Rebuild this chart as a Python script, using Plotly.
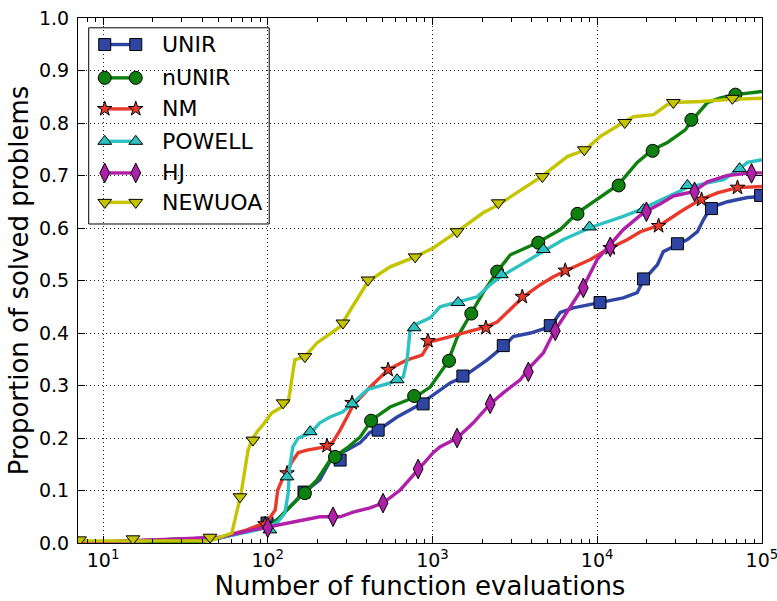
import plotly.graph_objects as go

FONT = "DejaVu Sans"

# ---------------- data ----------------
# x = number of function evaluations, y = proportion of solved problems
series_names = ["UNIR", "nUNIR", "NM", "POWELL", "HJ", "NEWUOA"]

unir_x = [7.0, 51.2, 81.3, 98.9, 114, 164, 207, 249, 303, 364, 418, 468, 610, 877, 968, 1280, 1530,
          2150, 2690, 3090, 3930, 5190, 5970, 7160, 10400, 14400, 17500, 19100, 23200, 25200, 30700,
          35300, 40600, 44200, 48800, 61800, 81700, 100000]
unir_y = [0.0, 0.010, 0.025, 0.036, 0.044, 0.095, 0.120, 0.166, 0.177, 0.191, 0.211, 0.215, 0.240,
          0.267, 0.278, 0.305, 0.316, 0.349, 0.374, 0.393, 0.400, 0.412, 0.439, 0.448, 0.458, 0.467,
          0.477, 0.501, 0.530, 0.555, 0.568, 0.578, 0.593, 0.616, 0.639, 0.650, 0.658, 0.660]
unir_mx = [98.9, 166, 275, 468, 877, 1530, 2690, 5190, 10400, 19100, 30700, 49400, 98200]
unir_my = [0.038, 0.097, 0.158, 0.215, 0.265, 0.318, 0.376, 0.414, 0.458, 0.503, 0.570, 0.637, 0.662]

nunir_x = [7.0, 38.8, 51.2, 81.3, 100, 114, 131, 164, 199, 239, 264, 303, 364, 430, 553, 785, 968,
           1240, 1410, 1690, 2030, 2470, 2970, 4330, 5970, 7590, 10000, 13500, 17500, 21700, 26700,
           34300, 37800, 46700, 56000, 69000, 100000]
nunir_y = [0.0, 0.002, 0.010, 0.025, 0.032, 0.044, 0.063, 0.095, 0.120, 0.158, 0.168, 0.181, 0.202,
           0.235, 0.259, 0.278, 0.297, 0.345, 0.391, 0.435, 0.477, 0.517, 0.549, 0.572, 0.597, 0.629,
           0.654, 0.683, 0.725, 0.749, 0.763, 0.787, 0.806, 0.839, 0.848, 0.854, 0.860]
nunir_mx = [168, 256, 424, 774, 1260, 1720, 2470, 4390, 7590, 13500, 21700, 37300, 69000]
nunir_my = [0.095, 0.164, 0.233, 0.280, 0.347, 0.437, 0.517, 0.572, 0.627, 0.681, 0.747, 0.806, 0.854]

nm_x = [7.0, 51.2, 74.8, 81.3, 98.9, 111, 115, 122, 131, 140, 153, 173, 199, 223, 249, 275, 303, 330,
        379, 418, 538, 702, 865, 968, 1280, 2030, 2470, 3090, 3560, 4520, 5420, 6590, 9100, 11500,
        15300, 18300, 24200, 32000, 42400, 53700, 71100, 100000]
nm_y = [0.0, 0.010, 0.025, 0.029, 0.040, 0.063, 0.101, 0.120, 0.135, 0.154, 0.172, 0.177, 0.181,
        0.183, 0.193, 0.215, 0.240, 0.263, 0.282, 0.297, 0.330, 0.349, 0.358, 0.383, 0.393, 0.410,
        0.421, 0.450, 0.469, 0.492, 0.507, 0.520, 0.540, 0.559, 0.578, 0.593, 0.606, 0.631, 0.654,
        0.667, 0.677, 0.679]
nm_mx = [96.2, 131, 229, 325, 538, 939, 2110, 3510, 6400, 12000, 23600, 43000, 71100]
nm_my = [0.036, 0.133, 0.185, 0.267, 0.330, 0.385, 0.410, 0.469, 0.519, 0.562, 0.604, 0.654, 0.677]

powell_x = [7.0, 51.2, 81.3, 103, 115, 127, 133, 136, 142, 153, 183, 207, 239, 286, 330, 401, 553,
            664, 702, 731, 785, 968, 1110, 1430, 1870, 2240, 2580, 3270, 4710, 6240, 9100, 14400,
            18300, 26700, 35300, 46700, 58500, 72100, 81700, 100000]
powell_y = [0.0, 0.010, 0.023, 0.031, 0.040, 0.057, 0.095, 0.145, 0.183, 0.200, 0.210, 0.229, 0.240,
            0.250, 0.267, 0.292, 0.305, 0.316, 0.349, 0.406, 0.416, 0.429, 0.450, 0.459, 0.469, 0.492,
            0.507, 0.526, 0.555, 0.578, 0.601, 0.622, 0.635, 0.660, 0.677, 0.686, 0.692, 0.711, 0.725,
            0.730]
powell_mx = [103, 131, 181, 325, 610, 774, 1430, 2620, 4710, 8980, 19100, 35300, 73200]
powell_my = [0.025, 0.126, 0.212, 0.265, 0.311, 0.410, 0.458, 0.511, 0.559, 0.602, 0.635, 0.681, 0.713]

hj_x = [7.0, 51.2, 81.3, 103, 131, 164, 207, 275, 330, 418, 501, 637, 818, 1010, 1110, 1410, 1770,
        2240, 2690, 3410, 3930, 4710, 5420, 6870, 8240, 10000, 11500, 14400, 19100, 24200, 29000,
        38400, 46700, 61800, 85300, 100000]
hj_y = [0.0, 0.011, 0.025, 0.031, 0.038, 0.044, 0.050, 0.050, 0.059, 0.067, 0.076, 0.101, 0.139,
        0.172, 0.183, 0.200, 0.229, 0.265, 0.286, 0.311, 0.336, 0.362, 0.400, 0.450, 0.488, 0.540,
        0.562, 0.597, 0.629, 0.646, 0.661, 0.669, 0.688, 0.700, 0.705, 0.705]
hj_mx = [100, 249, 501, 818, 1410, 2240, 3820, 5570, 8240, 12000, 19900, 39000, 86500]
hj_my = [0.029, 0.050, 0.076, 0.141, 0.200, 0.265, 0.326, 0.404, 0.486, 0.564, 0.631, 0.669, 0.704]

newuoa_x = [7.0, 44.6, 51.2, 60.5, 63.2, 65.9, 68.7, 72.6, 75.9, 80.2, 86.1, 93.5, 106, 122, 133, 136,
            140, 146, 168, 199, 275, 348, 406, 553, 785, 1010, 1410, 2030, 2510, 4580, 6590, 8470,
            10400, 14400, 16600, 22000, 26700, 29000, 42400, 64400, 100000]
newuoa_y = [0.004, 0.004, 0.011, 0.019, 0.044, 0.069, 0.092, 0.139, 0.177, 0.196, 0.212, 0.225, 0.248,
            0.259, 0.269, 0.286, 0.311, 0.349, 0.355, 0.381, 0.412, 0.463, 0.498, 0.526, 0.545, 0.562,
            0.593, 0.629, 0.644, 0.698, 0.736, 0.749, 0.774, 0.801, 0.812, 0.816, 0.835, 0.839, 0.841,
            0.845, 0.847]
newuoa_mx = [7.2, 15.2, 44.6, 67.8, 81.3, 124, 168, 286, 406, 785, 1410, 2510, 4650, 8360, 14700,
             29000, 66200]
newuoa_my = [0.006, 0.008, 0.011, 0.088, 0.196, 0.267, 0.355, 0.419, 0.501, 0.545, 0.593, 0.648,
             0.698, 0.749, 0.801, 0.839, 0.847]

x_tick_vals = [10, 100, 1000, 10000, 100000]
x_tick_text = ["10<sup>1</sup>", "10<sup>2</sup>", "10<sup>3</sup>", "10<sup>4</sup>", "10<sup>5</sup>"]
x_minor_vals = [m * 10 ** k for k in range(0, 5) for m in range(2, 10)]
y_tick_vals = [0.0, 0.1, 0.2, 0.3, 0.4, 0.5, 0.6, 0.7, 0.8, 0.9, 1.0]

# ---------------- styles ----------------
colors = ["#2E45A3", "#0E800F", "#E8392A", "#2CC2C2", "#B020A8", "#C4C400"]
symbols = ["square", "circle", "star", "triangle-up", "diamond-tall", "triangle-down"]
msizes = [12, 13, 11, 12, 14, 12]

lines = [(unir_x, unir_y), (nunir_x, nunir_y), (nm_x, nm_y), (powell_x, powell_y), (hj_x, hj_y),
         (newuoa_x, newuoa_y)]
marks = [(unir_mx, unir_my), (nunir_mx, nunir_my), (nm_mx, nm_my), (powell_mx, powell_my),
         (hj_mx, hj_my), (newuoa_mx, newuoa_my)]

fig = go.Figure()
for i, name in enumerate(series_names):
    lx, ly = lines[i]
    mx, my = marks[i]
    fig.add_trace(go.Scatter(x=lx, y=ly, mode="lines", line=dict(color=colors[i], width=3.4),
                             showlegend=False, hoverinfo="skip", name=name))
    fig.add_trace(go.Scatter(x=mx, y=my, mode="markers", showlegend=False, name=name,
                             marker=dict(symbol=symbols[i], size=msizes[i], color=colors[i],
                                         line=dict(color="black", width=1))))

# ---------------- custom legend (matplotlib style, two markers per entry) ----------------
L, R, T, B = 78.3, 761.5, 18.5, 543.0   # plot area in px (for layout placement only)
def fx(px):
    return (px - L) / (R - L)
def fy(py):
    return (B - py) / (B - T)

row_py = [45, 78.3, 109.3, 141.7, 173.3, 202.7]
fig.add_shape(type="rect", xref="paper", yref="paper", x0=fx(89), x1=fx(269.3), y0=fy(224.3), y1=fy(28.3),
              line=dict(color="black", width=1), fillcolor="white", layer="between")
for i, name in enumerate(series_names):
    yy = fy(row_py[i])
    fig.add_trace(go.Scatter(x=[fx(105), fx(136)], y=[yy, yy], xaxis="x2", yaxis="y2",
                             mode="lines+markers", showlegend=False, hoverinfo="skip", cliponaxis=False,
                             line=dict(color=colors[i], width=3.4),
                             marker=dict(symbol=symbols[i], size=msizes[i], color=colors[i],
                                         line=dict(color="black", width=1))))
    fig.add_annotation(x=fx(160), y=yy, xref="paper", yref="paper", text=name, showarrow=False,
                       xanchor="left", yanchor="middle", font=dict(family=FONT, size=22, color="black"))

axis_common = dict(showline=True, linecolor="black", linewidth=1.2, mirror="ticks", ticks="inside",
                   tickcolor="black", tickwidth=1, ticklen=7, showgrid=True, gridcolor="#222",
                   gridwidth=1, griddash="1px,3px", zeroline=False, ticklabeloverflow="allow",
                   automargin=False,
                   tickfont=dict(family=FONT, size=19, color="black"))

fig.update_layout(
    width=777, height=601,
    margin=dict(l=78, r=15, t=18, b=58, autoexpand=False),
    paper_bgcolor="white", plot_bgcolor="white",
    font=dict(family=FONT, color="black"),
    showlegend=False,
    xaxis=dict(type="log", range=[0.848, 5.0005], tickmode="array", tickvals=x_tick_vals,
               ticktext=x_tick_text,
               minor=dict(ticks="inside", ticklen=4, tickcolor="black", tickwidth=1,
                          tickmode="array", tickvals=x_minor_vals, showgrid=False),
               title=dict(text="Number of function evaluations", font=dict(family=FONT, size=26),
                          standoff=8),
               **axis_common),
    yaxis=dict(range=[0, 1], tickmode="array", tickvals=y_tick_vals, tickformat=".1f",
               title=dict(text="Proportion of solved problems", font=dict(family=FONT, size=26),
                          standoff=2),
               ticklabelstandoff=4,
               **axis_common),
    xaxis2=dict(overlaying="x", anchor="y2", range=[0, 1], visible=False, fixedrange=True),
    yaxis2=dict(overlaying="y", anchor="x2", range=[0, 1], visible=False, fixedrange=True),
)

fig.write_html("out.html")
